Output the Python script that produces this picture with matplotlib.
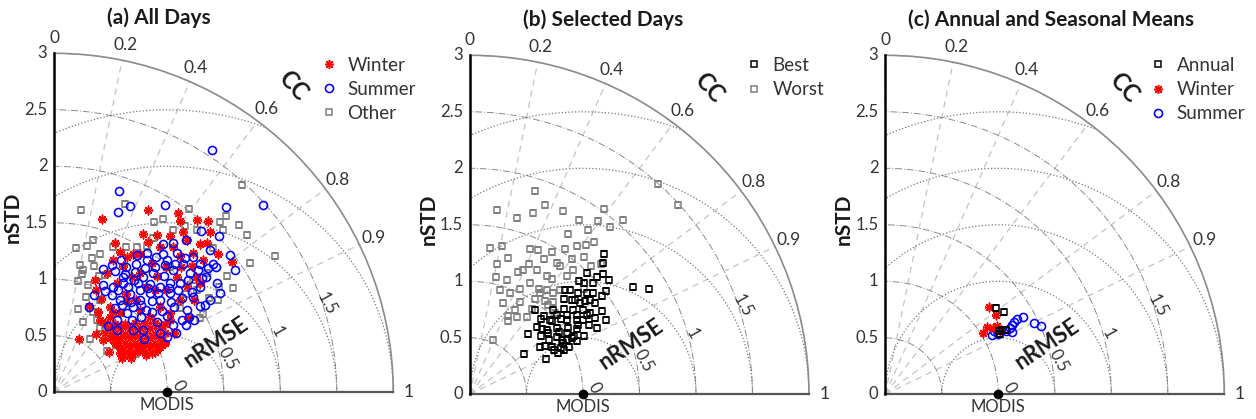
import numpy as np
import matplotlib
matplotlib.use("Agg")
import matplotlib.pyplot as plt

plt.rcParams["font.family"] = ["Lato", "DejaVu Sans"]

# diagram layout values
CC_TICKS = [0, 0.2, 0.4, 0.6, 0.8, 0.9, 1]
STD_TICKS = [0, 0.5, 1, 1.5, 2, 2.5, 3]
RMSE_LEVELS = [0.5, 1, 1.5, 2, 2.5]
RMSE_LABELS = [0, 0.5, 1, 1.5]
STD_MAX = 3.0
REF_STD = 1.0  # MODIS reference

# (nSTD, CC) pairs
ALL_WINTER = [
    (1.59, .267), (1.81, .456), (1.93, .567), (1.43, .376), (1.88, .593), (1.98, .640),
    (2.04, .668), (1.82, .626), (1.98, .696), (1.90, .763), (1.95, .806), (0.52, .415),
    (0.82, .376), (0.60, .802), (0.67, .893), (0.74, .913), (0.92, .445), (0.98, .377),
    (1.37, .423), (1.36, .470), (1.57, .529), (1.72, .596), (1.66, .633), (1.84, .699),
    (1.65, .738), (1.35, .875), (1.06, .912), (0.93, .928), (0.85, .896), (0.72, .727),
    (0.64, .583),
    (.76, .592), (.81, .660), (.87, .716), (.94, .760), (1.01, .796), (1.08, .825), (1.15, .849),
    (.69, .652), (.75, .717), (.81, .768), (.88, .807), (.96, .838), (1.03, .863), (1.11, .882),
    (.69, .778), (.76, .822), (.84, .855), (.91, .880), (.99, .899), (1.07, .914),
    (.72, .867), (.80, .893), (.88, .912), (.96, .927),
    (.75, .656), (.81, .716), (.88, .764), (.95, .801), (1.02, .831), (1.09, .855),
    (.69, .718), (.75, .772), (.82, .814), (.90, .846), (.97, .871), (1.05, .890),
    (.70, .825), (.78, .860), (.86, .885), (.94, .905), (1.02, .920),
    (.76, .534), (.83, .593), (.63, .683), (.88, .927), (.98, .924), (1.18, .896),
    (1.21, .848), (.75, .889), (.68, .860),
    (1.28, .407), (1.27, .481), (1.41, .494), (1.30, .584), (1.43, .602), (1.59, .587),
    (1.49, .666), (1.64, .680), (1.79, .656), (1.74, .707), (1.76, .748), (1.11, .496),
    (1.08, .590), (1.09, .666), (1.24, .658), (1.37, .663), (1.34, .739), (1.49, .727),
    (1.50, .781), (1.62, .776), (0.90, .545), (0.91, .639), (1.05, .721), (1.08, .784),
    (1.20, .777), (1.24, .826), (1.38, .806), (1.48, .833), (1.61, .801), (1.61, .488),
    (1.66, .545), (1.23, .556), (1.15, .403), (1.06, .340), (0.81, .479), (0.70, .792),
    (1.03, .624), (.88, .590), (1.27, .701), (1.58, .712), (1.89, .715), (1.44, .525),
]
ALL_SUMMER = [
    (2.56, .544), (2.48, .744), (1.87, .307), (1.69, .335), (1.78, .376), (1.93, .509),
    (2.24, .680), (1.93, .674), (2.01, .727), (1.78, .653), (1.63, .591), (1.87, .739),
    (1.97, .788), (1.93, .827), (1.81, .790), (1.71, .858), (1.54, .865), (1.37, .872),
    (0.92, .859), (1.17, .366), (1.24, .410), (0.93, .380), (0.82, .378), (0.75, .628),
    (1.19, .512),
    (.85, .653), (.95, .675), (.89, .785), (1.09, .746), (1.10, .823), (1.20, .829),
    (1.30, .812), (1.30, .870), (1.38, .849), (1.49, .824), (1.59, .809), (1.69, .796),
    (1.81, .777), (1.72, .749), (1.60, .752), (1.47, .755), (1.35, .760), (1.24, .753),
    (1.22, .695), (1.11, .680), (1.10, .607), (1.00, .580), (1.07, .487), (1.14, .535),
    (1.22, .575), (1.29, .610), (1.37, .640), (1.41, .686), (1.51, .697), (1.61, .707),
    (1.72, .716), (1.64, .661), (1.54, .647), (1.50, .602), (1.43, .572), (1.35, .538),
    (1.28, .499), (1.28, .660), (1.32, .707), (1.41, .728), (1.18, .642), (1.03, .678),
    (.96, .819), (1.11, .896), (1.20, .901), (1.39, .887), (1.60, .860), (1.73, .830),
    (1.69, .624), (.92, .585), (1.04, .415), (1.00, .450), (1.31, .452), (1.07, .873),
    (.78, .707),
    (.98, .611), (1.05, .649), (1.09, .707), (1.18, .732), (1.19, .799), (1.31, .791),
    (1.40, .805), (1.51, .807), (1.65, .791), (1.75, .779), (1.67, .762), (1.55, .766),
    (1.42, .771), (1.37, .739), (1.27, .724), (1.24, .670), (1.22, .610), (1.14, .574),
    (1.07, .530), (1.00, .508), (1.20, .449), (1.22, .511), (1.28, .556), (1.36, .590),
    (1.42, .625), (1.49, .656), (1.56, .683), (1.66, .698), (1.12, .770), (1.02, .756),
    (.94, .730), (1.21, .870), (1.31, .891), (1.50, .862), (1.56, .617), (1.48, .553),
    (1.42, .514),
]
ALL_OTHER = [
    (1.63, .145), (1.78, .351), (2.01, .591), (1.81, .532), (1.75, .506), (1.78, .591),
    (2.10, .697), (2.18, .697), (2.20, .741), (2.20, .774), (2.30, .851), (2.08, .834),
    (2.48, .671), (1.29, .147), (1.33, .220), (1.39, .244), (1.39, .375), (1.43, .443),
    (1.15, .198), (1.08, .230), (1.01, .205), (.99, .297), (1.23, .268), (1.17, .303),
    (1.10, .356), (.57, .551), (.77, .275), (.67, .383), (.79, .429), (.74, .505),
    (.74, .895), (.80, .908), (1.45, .892), (1.66, .871), (1.83, .864), (1.73, .842),
    (1.60, .854), (1.58, .778), (1.71, .788), (1.84, .830), (1.48, .492), (1.62, .541),
    (1.91, .659), (1.87, .619), (2.07, .721), (1.90, .741), (.91, .443), (.71, .631),
    (.69, .796), (.70, .581), (.59, .790), (1.46, .801), (1.34, .831), (1.51, .677),
    (1.53, .535), (1.29, .312), (.89, .320), (.81, .479), (1.11, .231), (1.13, .396),
    (.73, .858), (1.55, .812), (1.49, .884),
]

SEL_BEST = [
    (1.73, .835), (1.84, .862), (1.72, .690), (1.65, .712), (1.59, .771), (1.59, .742),
    (1.51, .796), (1.46, .803), (1.37, .876), (1.38, .847), (1.30, .854), (1.22, .863),
    (1.13, .891), (1.06, .897), (.97, .900), (.90, .890), (.84, .864), (.79, .844),
    (.81, .772), (.74, .697), (.60, .801), (.74, .905), (.86, .903), (.98, .872),
    (1.11, .856), (1.20, .836), (1.35, .786), (1.47, .743), (1.49, .694), (1.39, .693),
    (1.28, .692), (1.18, .703), (1.05, .703), (.95, .686), (.84, .702), (.89, .766),
    (.97, .796), (1.08, .793), (1.18, .775), (1.27, .770), (1.37, .756), (1.01, .846),
    (.92, .833), (.85, .822), (.91, .686), (.94, .611), (1.27, .887), (1.15, .821),
    (1.04, .771), (.97, .733), (1.05, .873), (.94, .877), (.86, .736), (1.23, .733),
    (1.25, .802), (1.28, .829), (1.12, .742), (1.31, .731), (1.53, .733), (1.25, .673),
    (.88, .789), (.96, .816), (1.05, .830), (1.14, .842), (1.25, .827), (1.18, .802),
    (1.11, .773), (1.04, .738), (1.03, .876), (.95, .860), (.92, .903), (1.25, .744),
    (1.31, .779), (1.41, .774), (1.37, .808), (1.41, .714), (.97, .747), (.84, .883),
    (.75, .826),
]
SEL_WORST = [
    (2.50, .666), (2.49, .741), (1.89, .303), (1.65, .143), (1.61, .257), (1.70, .330),
    (1.80, .367), (1.82, .450), (2.02, .586), (1.82, .528), (1.91, .595), (1.93, .640),
    (2.05, .660), (1.31, .136), (1.34, .210), (1.79, .582), (1.67, .615), (1.74, .633),
    (1.18, .200), (1.06, .217), (1.25, .271), (1.06, .312), (.96, .368), (1.16, .369),
    (1.03, .430), (1.39, .382), (1.27, .413), (1.41, .424), (1.36, .479), (1.45, .499),
    (1.39, .552), (1.54, .548), (1.66, .523), (1.62, .586), (1.58, .636), (1.56, .685),
    (1.63, .709), (.77, .436), (.73, .457), (.80, .515), (.85, .589), (.93, .590),
    (.93, .475), (.52, .395), (1.25, .473), (1.25, .546), (1.10, .666), (1.22, .653),
    (1.35, .635), (1.43, .639), (1.37, .736), (1.11, .548), (1.06, .629), (1.02, .567),
    (1.04, .724), (1.15, .592), (1.25, .581), (1.12, .476), (.86, .344), (.96, .276),
    (1.09, .570), (1.16, .636), (1.39, .576), (1.50, .603), (1.05, .659), (1.20, .394),
    (.85, .471),
]

MEAN_ANNUAL = [(1.24, .788), (1.28, .822), (1.15, .886), (1.18, .875), (1.21, .882), (1.15, .875)]
MEAN_WINTER = [(1.20, .767), (1.20, .813), (1.08, .832), (1.16, .853), (1.02, .847),
               (1.12, .852), (1.16, .876)]
MEAN_SUMMER = [(1.40, .872), (1.34, .868), (1.31, .871), (1.28, .878), (1.25, .884),
               (1.21, .886), (1.25, .899), (1.46, .901), (1.50, .916), (1.11, .865),
               (1.08, .874), (1.13, .882)]

TXT = "#333333"
STYLE = {
    "winter": dict(marker=(8, 2, 0), color="red", ms=6.5, mew=1.1, mfc="red"),
    "summer": dict(marker="o", color="blue", ms=5.8, mew=1.15, mfc="none"),
    "other": dict(marker="s", color="#7f7f7f", ms=4.6, mew=1.1, mfc="none"),
    "best": dict(marker="s", color="black", ms=4.6, mew=1.1, mfc="none"),
    "worst": dict(marker="s", color="#808080", ms=4.6, mew=1.1, mfc="none"),
}


def taylor_axes(fig, rect, title, title_x):
    ax = fig.add_axes(rect, projection="polar")
    ax.set_thetamin(0)
    ax.set_thetamax(90)
    ax.set_rlim(0, STD_MAX)
    ax.set_thetagrids(np.degrees(np.arccos(CC_TICKS)), [f"{c:g}" for c in CC_TICKS])
    ax.set_rgrids(STD_TICKS, [f"{s:g}" for s in STD_TICKS])
    ax.tick_params(axis="x", length=0, pad=4, labelsize=12.5, labelcolor=TXT)
    ax.tick_params(axis="y", length=0, pad=5, labelsize=12, labelcolor=TXT,
                   labelleft=False, labelright=True)
    ax.xaxis.grid(True, color="#c4c4c4", linestyle=(0, (5, 4)), linewidth=0.9)
    ax.yaxis.grid(True, color="#8a8a8a", linestyle=(0, (7, 2, 1, 2)), linewidth=0.7)
    ax.set_axisbelow(True)
    ax.spines["polar"].set_color("#8c8c8c")
    ax.spines["polar"].set_linewidth(1.2)
    ax.spines["start"].set_color("#555555")
    ax.spines["start"].set_linewidth(1.6)
    ax.spines["end"].set_color("black")
    ax.spines["end"].set_linewidth(1.8)
    ax.spines["inner"].set_visible(False)

    # centred RMSE arcs around the reference point
    phi = np.linspace(0, np.pi, 500)
    for rms in RMSE_LEVELS:
        x = REF_STD + rms * np.cos(phi)
        y = rms * np.sin(phi)
        ax.plot(np.arctan2(y, x), np.hypot(x, y), linestyle=":", color="#777777",
                linewidth=0.9, zorder=1)
    ang = np.radians(29)
    for rms in RMSE_LABELS:
        d = rms + 0.11
        x = REF_STD + d * np.cos(ang)
        y = d * np.sin(ang)
        ax.text(np.arctan2(y, x), np.hypot(x, y), f"{rms:g}", rotation=-61,
                ha="center", va="center", fontsize=12, color=TXT)
    ax.text(np.arctan2(0.44, 1.43), np.hypot(1.43, 0.44), "nRMSE", rotation=34,
            ha="center", va="center", fontsize=16, fontweight="bold", color="#1a1a1a")
    ax.text(np.radians(52), 3.44, "CC", rotation=-48, ha="center", va="center",
            fontsize=17, fontweight="bold", color="#1a1a1a")

    ax.plot(0, REF_STD, "o", color="black", ms=6, clip_on=False, zorder=6)
    ax.text(REF_STD / STD_MAX, -0.037, "MODIS", transform=ax.transAxes,
            ha="center", va="center", fontsize=12, color=TXT)
    ax.text(-0.122, 0.517, "nSTD", transform=ax.transAxes, rotation=90,
            ha="center", va="center", fontsize=15, fontweight="bold", color="#1a1a1a")
    ax.text(title_x, 1.105, title, transform=ax.transAxes, ha="center", va="center",
            fontsize=15, fontweight="bold", color="#1a1a1a")
    return ax


def scatter(ax, pairs, style, label, z):
    std, cc = np.array(pairs).T
    return ax.plot(np.arccos(cc), std, linestyle="none", label=label, zorder=z,
                   **STYLE[style])[0]


def legend(ax, handles, x, y):
    ax.legend(handles=handles, loc="upper left", bbox_to_anchor=(x, y), frameon=False,
              fontsize=13.5, handlelength=1.0, handletextpad=0.5, labelspacing=0.38,
              borderpad=0, borderaxespad=0, numpoints=1, labelcolor=TXT)


fig = plt.figure(figsize=(12.56, 4.19), dpi=100)

ax_a = taylor_axes(fig, [0.04323, 0.0637, 0.2699, 0.80907], "(a) All Days", 0.309)
h_o = scatter(ax_a, ALL_OTHER, "other", "Other", 3)
h_w = scatter(ax_a, ALL_WINTER, "winter", "Winter", 4)
h_s = scatter(ax_a, ALL_SUMMER, "summer", "Summer", 5)
legend(ax_a, [h_w, h_s, h_o], 0.782, 0.99)

ax_b = taylor_axes(fig, [0.3742, 0.05895, 0.2699, 0.80907], "(b) Selected Days", 0.392)
h_wo = scatter(ax_b, SEL_WORST, "worst", "Worst", 3)
h_be = scatter(ax_b, SEL_BEST, "best", "Best", 4)
legend(ax_b, [h_be, h_wo], 0.809, 0.995)

ax_c = taylor_axes(fig, [0.70486, 0.05895, 0.2699, 0.80907],
                   "(c) Annual and Seasonal Means", 0.489)
h_an = scatter(ax_c, MEAN_ANNUAL, "best", "Annual", 5)
h_wi = scatter(ax_c, MEAN_WINTER, "winter", "Winter", 4)
h_su = scatter(ax_c, MEAN_SUMMER, "summer", "Summer", 3)
legend(ax_c, [h_an, h_wi, h_su], 0.777, 0.995)

fig.savefig("out.png", dpi=100)
